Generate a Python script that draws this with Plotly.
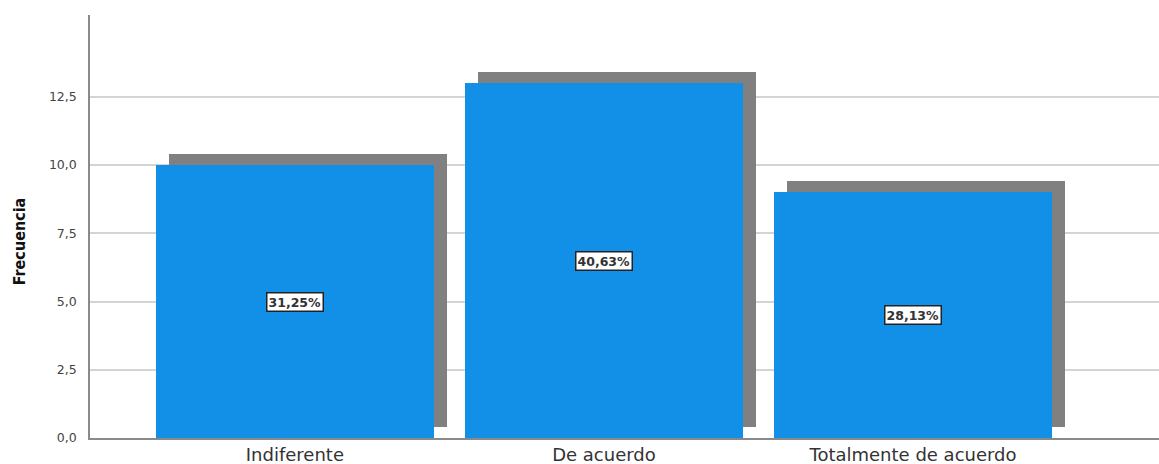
import plotly.graph_objects as go

categories = ["Indiferente", "De acuerdo", "Totalmente de acuerdo"]
frequencies = [10, 13, 9]
percent_labels = ["31,25%", "40,63%", "28,13%"]
y_tickvals = [0, 2.5, 5, 7.5, 10, 12.5]
y_ticktext = ["0,0", "2,5", "5,0", "7,5", "10,0", "12,5"]

x_pos = list(range(len(categories)))
shadow_dx = 0.043
shadow_dy = 0.4
bar_w = 0.9

fig = go.Figure()
fig.add_trace(go.Bar(
    x=[p + shadow_dx for p in x_pos], y=frequencies,
    base=[shadow_dy] * len(frequencies), width=bar_w,
    marker=dict(color="#808080", line=dict(width=0)),
    hoverinfo="skip", showlegend=False))
fig.add_trace(go.Bar(
    x=x_pos, y=frequencies, width=bar_w,
    marker=dict(color="#128FE6", line=dict(width=0)),
    showlegend=False))

for p, f, t in zip(x_pos, frequencies, percent_labels):
    fig.add_annotation(x=p, y=f / 2, text="<b>" + t + "</b>", showarrow=False,
                       font=dict(family="DejaVu Sans", size=12.5, color="#333"),
                       bgcolor="white", bordercolor="#222", borderwidth=1.5, borderpad=1)

fig.add_annotation(xref="paper", yref="paper", x=-0.066, y=0.466, xanchor="center",
                   yanchor="middle", textangle=-90, showarrow=False,
                   text="<b>Frecuencia</b>",
                   font=dict(family="Liberation Sans Narrow, DejaVu Sans Condensed, Arial Narrow",
                             size=16, color="#111"))

fig.update_layout(
    width=1159, height=464,
    margin=dict(l=90, r=0, t=15, b=26),
    barmode="overlay", bargap=0,
    plot_bgcolor="white", paper_bgcolor="white",
    xaxis=dict(range=[-0.663, 2.796], tickvals=x_pos, ticktext=categories,
               showgrid=False, zeroline=False, showline=True, linecolor="#8a8a8a",
               linewidth=1.5, ticks="", ticklabelstandoff=0, automargin=False,
               tickfont=dict(family="DejaVu Sans", size=18, color="#333")),
    yaxis=dict(range=[0, 15.5], tickvals=y_tickvals, ticktext=y_ticktext,
               showgrid=True, gridcolor="#d4d4d4", gridwidth=1.5, zeroline=False,
               showline=True, linecolor="#8a8a8a", linewidth=1.5, ticks="",
               ticklabelstandoff=9, automargin=False,
               tickfont=dict(family="DejaVu Sans", size=12.5, color="#444")),
)
fig.write_html("out.html")
